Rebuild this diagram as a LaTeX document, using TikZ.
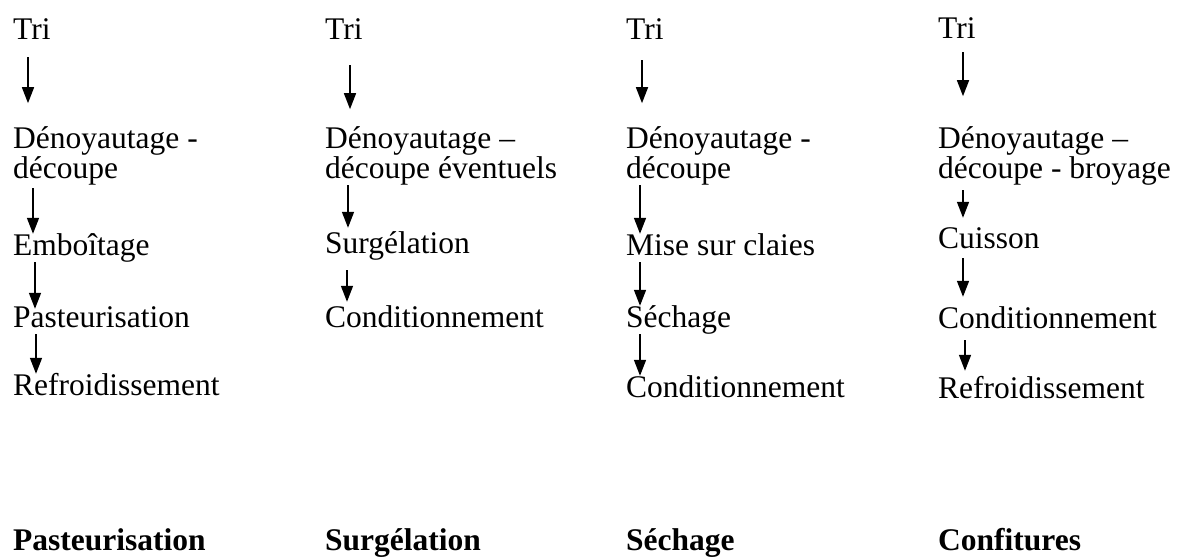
\documentclass[tikz,border=0pt]{standalone}
\usepackage{fontspec}
\setmainfont{Liberation Serif}
\usetikzlibrary{arrows.meta}
\tikzset{
  step text/.style={anchor=base west, inner sep=0pt, align=left,
    text height=21pt, text depth=7pt, font=\fontsize{31.5}{26}\selectfont},
  step pair/.style={step text, text height=},
  method/.style={step text, font=\fontsize{31.5}{26}\selectfont\bfseries},
  flow/.style={-{Triangle[length=16pt,width=12pt]}, line width=1.5pt},
}

\begin{document}
\begin{tikzpicture}[x=1pt, y=1pt]
    \useasboundingbox (0,0) rectangle (1181,-558);
    % column 1: pasteurisation
    \node[step text] (p1) at (13,-39) {Tri};
    \node[step pair] (p2) at (13,-178) {Dénoyautage -\\découpe};
    \node[step text] (p3) at (13,-255) {Emboîtage};
    \node[step text] (p4) at (13,-327) {Pasteurisation};
    \node[step text] (p5) at (13,-395) {Refroidissement};
    \node[method] (pm) at (13,-550) {Pasteurisation};
    \draw[flow, shorten <=11pt, shorten >=23pt]
      ([xshift=15pt]p1.south west) -- ([xshift=15pt]p2.north west);
    \draw[flow, shorten <=3pt] ([xshift=20pt]p2.south west) -- ([xshift=20pt]p3.north west);
    \draw[flow] ([xshift=22pt]p3.south west) -- ([xshift=22pt,yshift=-3pt]p4.north west);
    \draw[flow] ([xshift=23pt]p4.south west) -- ([xshift=23pt]p5.north west);
    % column 2: surgelation
    \node[step text] (s1) at (325,-39) {Tri};
    \node[step pair] (s2) at (325,-178) {Dénoyautage –\\découpe éventuels};
    \node[step text] (s3) at (325,-253) {Surgélation};
    \node[step text] (s4) at (325,-327) {Conditionnement};
    \node[method] (sm) at (325,-550) {Surgélation};
    \draw[flow, shorten <=19pt, shorten >=17pt]
      ([xshift=25pt]s1.south west) -- ([xshift=25pt]s2.north west);
    \draw[flow, shorten >=4pt] ([xshift=23pt]s2.south west) -- ([xshift=23pt]s3.north west);
    \draw[flow, shorten <=10pt, shorten >=4pt]
      ([xshift=22pt]s3.south west) -- ([xshift=22pt]s4.north west);
    % column 3: sechage
    \node[step text] (d1) at (626,-39) {Tri};
    \node[step pair] (d2) at (626,-178) {Dénoyautage -\\découpe};
    \node[step text] (d3) at (626,-255) {Mise sur claies};
    \node[step text] (d4) at (626,-327) {Séchage};
    \node[step text] (d5) at (626,-397) {Conditionnement};
    \node[method] (dm) at (626,-550) {Séchage};
    \draw[flow, shorten <=14pt, shorten >=23pt]
      ([xshift=16pt]d1.south west) -- ([xshift=16pt]d2.north west);
    \draw[flow] ([xshift=14pt]d2.south west) -- ([xshift=14pt]d3.north west);
    \draw[flow] ([xshift=14pt]d3.south west) -- ([xshift=14pt]d4.north west);
    \draw[flow] ([xshift=14pt]d4.south west) -- ([xshift=14pt]d5.north west);
    % column 4: confitures
    \node[step text] (c1) at (938,-38) {Tri};
    \node[step pair] (c2) at (938,-178) {Dénoyautage –\\découpe - broyage};
    \node[step text] (c3) at (938,-248) {Cuisson};
    \node[step text] (c4) at (938,-328) {Conditionnement};
    \node[step text] (c5) at (938,-398) {Refroidissement};
    \node[method] (cm) at (938,-550) {Confitures};
    \draw[flow, shorten <=7pt, shorten >=30pt]
      ([xshift=25pt]c1.south west) -- ([xshift=25pt]c2.north west);
    \draw[flow, shorten <=5pt, shorten >=9pt]
      ([xshift=25pt]c2.south west) -- ([xshift=25pt]c3.north west);
    \draw[flow, shorten <=3pt, shorten >=10pt]
      ([xshift=25pt]c3.south west) -- ([xshift=25pt]c4.north west);
    \draw[flow, shorten <=5pt, shorten >=6pt]
      ([xshift=27pt]c4.south west) -- ([xshift=27pt]c5.north west);
\end{tikzpicture}
\end{document}
